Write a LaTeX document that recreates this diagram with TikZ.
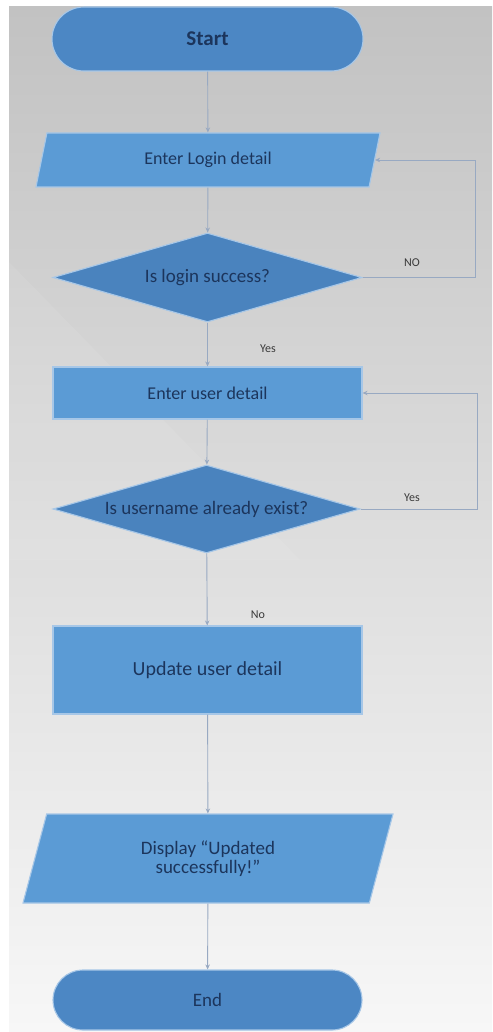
\documentclass[tikz,border=0pt]{standalone}
\usepackage{fontspec}
\setmainfont{Carlito}
\usetikzlibrary{shapes.geometric,arrows.meta}
\definecolor{bgtop}{HTML}{C2C2C2}
\definecolor{bgmid}{HTML}{DCDCDC}
\definecolor{bgbot}{HTML}{F7F7F7}
\definecolor{termblue}{HTML}{4C87C4}
\definecolor{procblue}{HTML}{5B9BD5}
\definecolor{decblue}{HTML}{4A83BE}
\definecolor{edgeblue}{HTML}{A7C7E7}
\definecolor{txtcol}{HTML}{1C355C}
\definecolor{linecol}{HTML}{98A9C2}
\definecolor{lblcol}{HTML}{3A3A3A}
\tikzset{
  base/.style={draw=edgeblue, line width=1.1pt, text=txtcol, inner sep=0pt, align=center,
    font=\fontsize{18}{19}\selectfont},
  term/.style={base, fill=termblue, minimum width=311pt},
  proc/.style={base, fill=procblue, rectangle, minimum width=309pt},
  dec/.style={base, fill=decblue, diamond, shape aspect=3.5, minimum width=309pt, minimum height=89pt,
    font=\fontsize{19}{20}\selectfont},
  io/.style={base, fill=procblue, trapezium, trapezium left angle=55, trapezium right angle=125,
    trapezium stretches body},
  conn/.style={draw=linecol, line width=0.9pt, -{Stealth[length=5pt,width=4.5pt]}},
  lbl/.style={text=lblcol, font=\fontsize{12}{13}\selectfont, inner sep=0pt}
}
\begin{document}
\begin{tikzpicture}[x=1pt,y=-1pt]
\useasboundingbox (0,0) rectangle (492,1032);
\fill[white] (0,0) rectangle (492,1032);
\shade[top color=bgtop, middle color=bgmid, bottom color=bgbot] (9,7) rectangle (492,1032);
\fill[white, opacity=0.08] (9,262) -- (300,560) -- (9,560) -- cycle;

\node[term, rounded corners=32pt, minimum height=64pt, font=\bfseries\fontsize{21}{22}\selectfont] (start) at (207.5,39) {Start};
\node[io, minimum width=344pt, minimum height=54pt] (login) at (208,160) {Enter Login detail};
\node[dec] (dec1) at (207.5,277.5) {Is login success?};
\node[proc, minimum height=52pt] (user) at (207.5,393) {Enter user detail};
\node[dec, minimum width=307pt, minimum height=88pt] (dec2) at (206.5,509) {Is username already exist?};
\node[proc, minimum height=88pt, font=\fontsize{20}{21}\selectfont] (update) at (207.5,670) {Update user detail};
\node[io, trapezium left angle=56.5, trapezium right angle=123.5, minimum width=370pt, minimum height=89pt,
  font=\fontsize{19}{19}\selectfont] (display) at (208,858.5) {Display “Updated\\successfully!”};
\node[term, rounded corners=30pt, minimum width=309pt, minimum height=60pt, font=\fontsize{19}{20}\selectfont] (end) at (207.5,1000) {End};

\draw[conn] (start) -- (login);
\draw[conn] (login) -- (dec1);
\draw[conn] (dec1) -- (user);
\draw[conn] (user) -- (dec2);
\draw[conn] (dec2) -- (update);
\draw[conn] (update) -- (display);
\draw[conn] (display) -- (end);
\draw[conn] (dec1.east) -- ++(113,0) |- (login.east);
\draw[conn] (dec2.east) -- ++(117,0) |- (user.east);

\node[lbl] (lno) at (412,263) {NO};
\node[lbl] (lyes1) at (268,349) {Yes};
\node[lbl] (lyes2) at (412,498) {Yes};
\node[lbl] (lno2) at (258,615) {No};
\end{tikzpicture}
\end{document}
